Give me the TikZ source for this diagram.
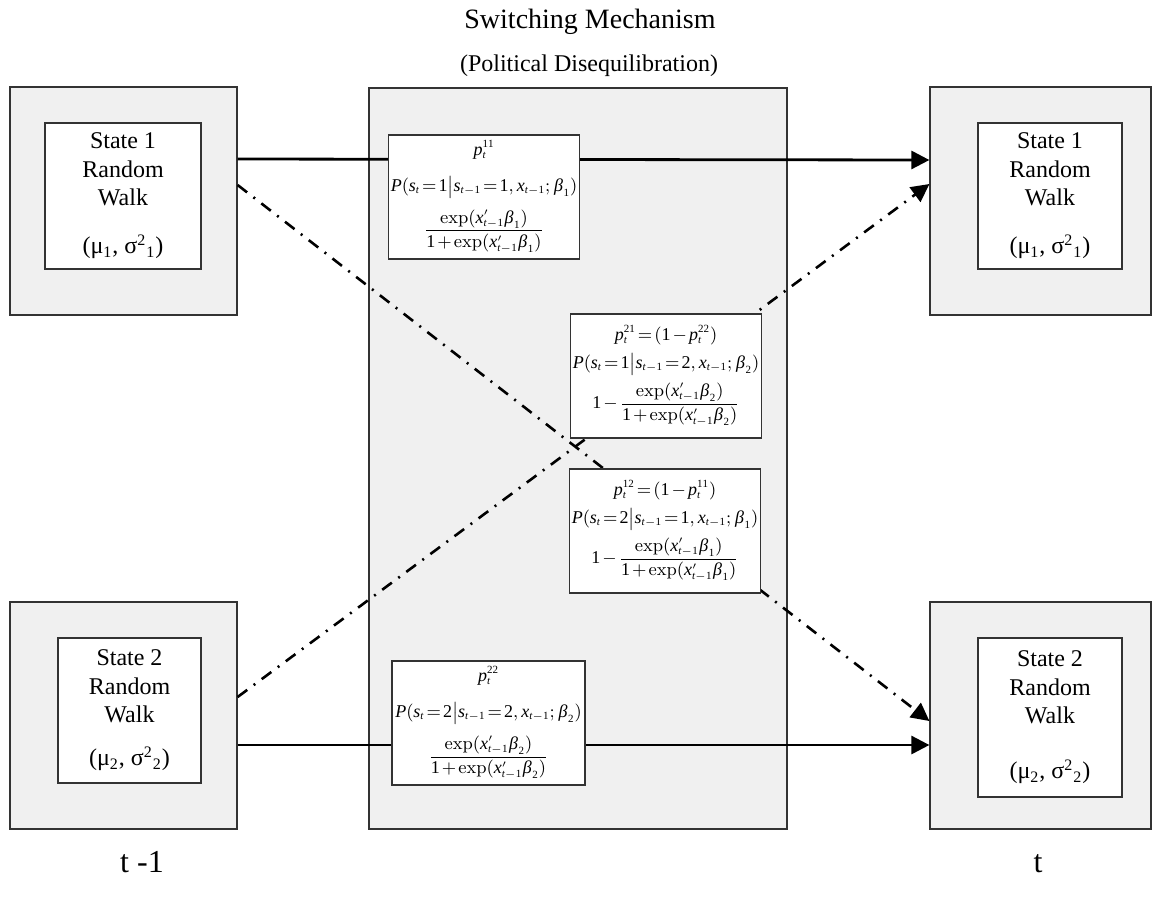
\documentclass[tikz,border=0pt]{standalone}
\usepackage{amsmath}
\usepackage{mathspec}
\setmainfont{Liberation Serif}
\setmathsfont(Digits,Latin,Greek){Liberation Serif}
\usetikzlibrary{arrows.meta}
\DeclareMathSizes{9}{9}{5.5}{4.5}

\definecolor{panelgray}{HTML}{F0F0F0}
\definecolor{edgegray}{HTML}{333333}

\newcommand{\walktext}[2]{State #1\\Random\\Walk\\[#2](μ\textsubscript{#1}, σ\textsuperscript{2}\textsubscript{#1})}

\tikzset{
  outerbox/.style={draw=edgegray, line width=0.6pt, fill=panelgray, inner sep=0pt},
  walkbox/.style={draw=edgegray, line width=0.6pt, fill=white, inner sep=0pt, align=center,
    font=\fontsize{12}{14.2}\selectfont},
  probbox/.style={draw=edgegray, line width=0.6pt, fill=white, inner sep=1pt, minimum height=62pt,
    align=center, font=\fontsize{9}{11}\selectfont},
  solidarrow/.style={line width=1.4pt, -{Triangle[length=9pt,width=9pt]}},
  switcharrow/.style={solidarrow, line width=1.3pt, dash pattern=on 6pt off 4pt on 1pt off 4pt},
}

\begin{document}
\thickmuskip=2mu plus 1mu\relax
\medmuskip=2mu plus 1mu\relax
\begin{tikzpicture}[x=0.5pt, y=-0.5pt]
    \useasboundingbox (0,0) rectangle (1153,902);

    % draw titles
    \node[font=\fontsize{14}{16}\selectfont] (title) at (590,22) {Switching Mechanism};
    \node[font=\fontsize{12}{14}\selectfont] (subtitle) at (589,66) {(Political Disequilibration)};

    % draw switching panel
    \node[outerbox, minimum width=209pt, minimum height=370.5pt] (mech) at (578,458.5) {};

    % draw state boxes
    \node[outerbox, minimum width=113.5pt, minimum height=114pt] (s1prev) at (123.5,201) {};
    \node[outerbox, minimum width=113.5pt, minimum height=113.5pt] (s2prev) at (123.5,715.5) {};
    \node[outerbox, minimum width=110.5pt, minimum height=114pt] (s1next) at (1040.5,201) {};
    \node[outerbox, minimum width=110.5pt, minimum height=113.5pt] (s2next) at (1040.5,715.5) {};

    \node[walkbox, minimum width=78pt, minimum height=73pt] (w1prev) at (123,196) {\walktext{1}{9.8pt}};
    \node[walkbox, minimum width=71.5pt, minimum height=72.5pt] (w2prev) at (129.5,710.5) {\walktext{2}{7.3pt}};
    \node[walkbox, minimum width=72pt, minimum height=73pt] (w1next) at (1050,196) {\walktext{1}{9.8pt}};
    \node[walkbox, minimum width=72pt, minimum height=79.5pt] (w2next) at (1050,717.5) {\walktext{2}{13.3pt}};

    % draw time labels
    \node[font=\fontsize{16}{18}\selectfont, anchor=base] (tprev) at (142,872) {t -1};
    \node[font=\fontsize{16}{18}\selectfont, anchor=base] (tnext) at (1038,872) {t};

    % draw transitions
    \draw[solidarrow] ([yshift=21pt]s1prev.east) -- ([yshift=20.5pt]s1next.west);
    \draw[solidarrow] ([yshift=-14.75pt]s2prev.east) -- ([yshift=-14.75pt]s2next.west);
    \draw[switcharrow] ([yshift=8pt]s1prev.east) -- ([yshift=-2.75pt]s2next.west);
    \draw[switcharrow] ([yshift=9.25pt]s2prev.east) -- ([yshift=8.5pt]s1next.west);

    % draw transition probabilities
    \node[probbox, minimum width=93pt] (p11) at (484,197)
      {$p_t^{11}$\\[7pt] $P(s_t = 1 \big| s_{t-1} = 1, x_{t-1}; \beta_1)$\\[5pt]
       $\dfrac{\exp(x'_{t-1}\beta_1)}{1+\exp(x'_{t-1}\beta_1)}$};
    \node[probbox, minimum width=95pt] (p21) at (666,376)
      {$p_t^{21} = (1 - p_t^{22})$\\[3pt] $P(s_t = 1 \big| s_{t-1} = 2, x_{t-1}; \beta_2)$\\[3pt]
       $1 - \dfrac{\exp(x'_{t-1}\beta_2)}{1+\exp(x'_{t-1}\beta_2)}$};
    \node[probbox, minimum width=94pt] (p12) at (665,531)
      {$p_t^{12} = (1 - p_t^{11})$\\[3pt] $P(s_t = 2 \big| s_{t-1} = 1, x_{t-1}; \beta_1)$\\[3pt]
       $1 - \dfrac{\exp(x'_{t-1}\beta_1)}{1+\exp(x'_{t-1}\beta_1)}$};
    \node[probbox, minimum width=96.5pt] (p22) at (488.5,723)
      {$p_t^{22}$\\[7pt] $P(s_t = 2 \big| s_{t-1} = 2, x_{t-1}; \beta_2)$\\[5pt]
       $\dfrac{\exp(x'_{t-1}\beta_2)}{1+\exp(x'_{t-1}\beta_2)}$};

\end{tikzpicture}
\end{document}
